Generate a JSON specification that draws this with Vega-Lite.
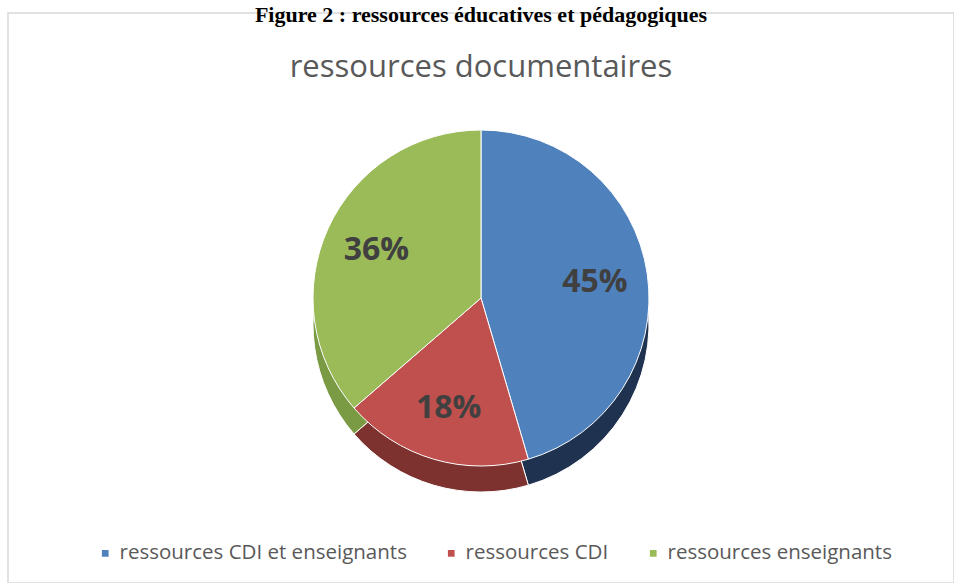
{
  "$schema": "https://vega.github.io/schema/vega-lite/v6.json",
  "width": 946,
  "height": 570,
  "autosize": {"type": "none"},
  "padding": {"left": 8, "top": 13, "right": 0, "bottom": 0},
  "background": "white",
  "view": {"stroke": "#D9D9D9", "strokeWidth": 1.5},
  "config": {
    "view": {"stroke": "#D9D9D9", "strokeWidth": 1.5},
    "font": "Open Sans"
  },
  "title": {
    "text": "Figure 2 : ressources éducatives et pédagogiques",
    "subtitle": "ressources documentaires",
    "font": "Liberation Serif",
    "fontSize": 22,
    "fontWeight": "bold",
    "color": "#000000",
    "subtitleFont": "Open Sans",
    "subtitleFontSize": 31,
    "subtitleColor": "#595959",
    "subtitlePadding": 26,
    "anchor": "middle",
    "frame": "group",
    "offset": -71
  },
  "data": {
    "values": [
      {"cat": "ressources CDI et enseignants", "value": 5, "label": "45%", "order": 1},
      {"cat": "ressources CDI", "value": 2, "label": "18%", "order": 2},
      {"cat": "ressources enseignants", "value": 4, "label": "36%", "order": 3}
    ]
  },
  "encoding": {
    "theta": {"field": "value", "type": "quantitative", "stack": true},
    "order": {"field": "order", "type": "quantitative"}
  },
  "layer": [
    {
      "mark": {"type": "arc", "radius": 168, "yOffset": 26, "stroke": "#ffffff", "strokeWidth": 1},
      "encoding": {
        "color": {
          "field": "cat",
          "type": "nominal",
          "sort": ["ressources CDI et enseignants", "ressources CDI", "ressources enseignants"],
          "scale": {"domain": ["ressources CDI et enseignants", "ressources CDI", "ressources enseignants"], "range": ["#1F3250", "#7E3230", "#7A9A44"]},
          "legend": null
        }
      }
    },
    {
      "mark": {"type": "arc", "radius": 168, "stroke": "#ffffff", "strokeWidth": 1},
      "encoding": {
        "color": {
          "field": "cat",
          "type": "nominal",
          "sort": ["ressources CDI et enseignants", "ressources CDI", "ressources enseignants"],
          "scale": {"domain": ["ressources CDI et enseignants", "ressources CDI", "ressources enseignants"], "range": ["#4F81BD", "#C0504D", "#9BBB59"]},
          "legend": {
            "title": null,
            "orient": "none",
            "legendX": 87,
            "legendY": 530,
            "direction": "horizontal",
            "symbolType": "square",
            "symbolSize": 45,
            "symbolStrokeWidth": 0,
            "labelFont": "Open Sans",
            "labelFontSize": 20.5,
            "labelLimit": 0,
            "labelColor": "#595959",
            "columnPadding": 34,
            "labelOffset": 4
          }
        }
      }
    },
    {
      "mark": {"type": "text", "radius": 115, "font": "Open Sans", "fontSize": 32, "fontWeight": "bold", "fill": "#404040"},
      "encoding": {"text": {"field": "label", "type": "nominal"}}
    }
  ],
  "resolve": {"scale": {"color": "independent"}}
}
